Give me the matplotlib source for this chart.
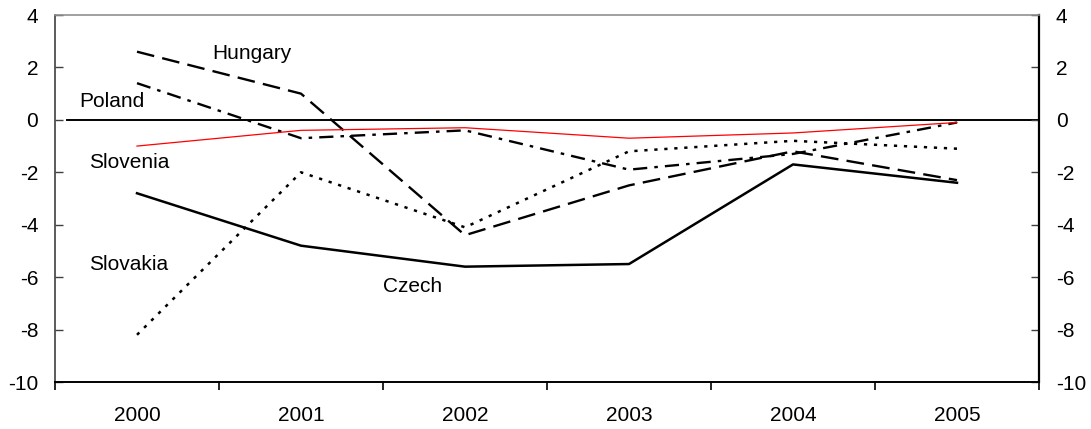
import matplotlib
matplotlib.use("Agg")
import matplotlib.pyplot as plt
import numpy as np

plt.rcParams["font.family"] = ["Liberation Sans", "DejaVu Sans"]

years = ["2000", "2001", "2002", "2003", "2004", "2005"]
hungary = [2.6, 1.0, -4.4, -2.5, -1.2, -2.3]
poland = [1.4, -0.7, -0.4, -1.9, -1.3, -0.1]
slovenia = [-1.0, -0.4, -0.3, -0.7, -0.5, -0.1]
slovakia = [-8.2, -2.0, -4.1, -1.2, -0.8, -1.1]
czech = [-2.8, -4.8, -5.6, -5.5, -1.7, -2.4]

x = np.arange(len(years))

fig = plt.figure(figsize=(10.91, 4.29), dpi=100)
ax = fig.add_axes([55 / 1091, 1 - 382 / 429, (1039 - 55) / 1091, (382 - 15) / 429])

ax.axhline(0, xmin=0.012, xmax=1, color="black", linewidth=1.4, zorder=1)

ax.plot(x, hungary, color="black", linewidth=1.7, dashes=(7.5, 3.5), zorder=3)
ax.plot(x, poland, color="black", linewidth=1.7, dashes=(6, 3, 1.5, 3), zorder=3)
ax.plot(x, slovenia, color="#ff0000", linewidth=0.9, zorder=4)
ax.plot(x, slovakia, color="black", linewidth=1.8, dashes=(1.3, 2.7), zorder=3)
ax.plot(x, czech, color="black", linewidth=1.8, zorder=3)

# series labels
lab_kw = dict(fontsize=15, ha="left", va="center")
ax.text(0.457, 2.52, "Hungary", **lab_kw)
ax.text(-0.354, 0.69, "Poland", **lab_kw)
ax.text(-0.293, -1.64, "Slovenia", **lab_kw)
ax.text(-0.293, -5.53, "Slovakia", **lab_kw)
ax.text(1.5, -6.34, "Czech", **lab_kw)

ax.set_xlim(-0.5, len(years) - 0.5)
ax.set_ylim(-10, 4)
ax.set_yticks(np.arange(-10, 5, 2))
ax.set_yticklabels([str(v) for v in range(-10, 5, 2)])

ax.set_xticks(x)
ax.set_xticklabels(years)
ax.set_xticks(np.arange(-0.5, len(years), 1.0), minor=True)
ax.tick_params(axis="x", which="major", length=0, pad=17, labelsize=15)
ax.tick_params(axis="x", which="minor", length=6, width=1.2, direction="out", color="black")
ax.tick_params(axis="y", which="major", direction="in", length=6, width=1, pad=12,
               labelsize=15, color="#404040", left=True, right=True,
               labelleft=True, labelright=True)

ax.spines["left"].set_color("#404040")
ax.spines["left"].set_linewidth(1.2)
ax.spines["top"].set_color("#909090")
ax.spines["top"].set_linewidth(1.2)
ax.spines["right"].set_color("black")
ax.spines["right"].set_linewidth(1.6)
ax.spines["bottom"].set_color("black")
ax.spines["bottom"].set_linewidth(1.4)

fig.savefig("out.png", dpi=100)
